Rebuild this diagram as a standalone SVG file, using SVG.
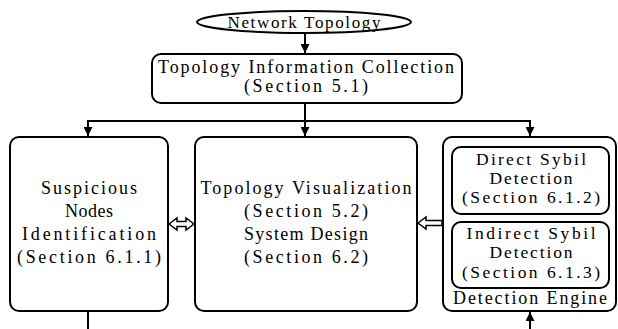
<svg xmlns="http://www.w3.org/2000/svg" width="618" height="329" viewBox="0 0 618 329">
<style>
.box{fill:#fff;stroke:#000;stroke-width:2}
.t{font-family:"Liberation Serif","DejaVu Serif",serif;font-size:18px;fill:#000;text-anchor:middle}
.s{font-size:17.5px}
.c{fill:none;stroke:#000;stroke-width:2}
.h{fill:#fff;stroke:#000;stroke-width:1.5;stroke-linejoin:miter}
</style>
<defs>
<marker id="ah" viewBox="0 0 10 10" refX="10" refY="5" markerWidth="4.5" markerHeight="4.5" orient="auto" markerUnits="strokeWidth">
<path d="M0,0 L10,5 L0,10 Z" fill="#000"/>
</marker>
</defs>
<rect width="618" height="329" fill="#fff"/>
<g id="connectors">
<line class="c" x1="305" y1="33" x2="305" y2="53" marker-end="url(#ah)"/>
<line class="c" x1="305" y1="103" x2="305" y2="136" marker-end="url(#ah)"/>
<line class="c" x1="88" y1="121" x2="530" y2="121"/>
<line class="c" x1="88" y1="120" x2="88" y2="136" marker-end="url(#ah)"/>
<line class="c" x1="530" y1="120" x2="530" y2="136" marker-end="url(#ah)"/>
<line class="c" x1="88" y1="311" x2="88" y2="329"/>
<line class="c" x1="530" y1="329" x2="530" y2="312" marker-end="url(#ah)"/>
<polygon class="h" points="169,224 177,218 177,221.5 186,221.5 186,218 194,224 186,230 186,226.5 177,226.5 177,230"/>
<polygon class="h" points="418,223 426,217 426,220.5 442,220.5 442,225.5 426,225.5 426,229"/>
</g>
<g id="network-topology">
<ellipse class="box" cx="304" cy="22" rx="107" ry="11"/>
<text class="t" x="304" y="27.5" style="font-size:17px" textLength="153" lengthAdjust="spacing">Network Topology</text>
</g>
<g id="topology-collection">
<rect class="box" x="152" y="54" width="310" height="49" rx="9"/>
<text class="t" x="306" y="73" textLength="296" lengthAdjust="spacing">Topology Information Collection</text>
<text class="t" x="306" y="92" textLength="124" lengthAdjust="spacing">(Section 5.1)</text>
</g>
<g id="suspicious-nodes">
<rect class="box" x="10" y="137" width="158" height="174" rx="9"/>
<text class="t" x="89" y="194" textLength="96" lengthAdjust="spacing">Suspicious</text>
<text class="t" x="89" y="217" textLength="48" lengthAdjust="spacing">Nodes</text>
<text class="t" x="89" y="240" textLength="134" lengthAdjust="spacing">Identification</text>
<text class="t" x="89" y="263" textLength="144" lengthAdjust="spacing">(Section 6.1.1)</text>
</g>
<g id="topology-visualization">
<rect class="box" x="195" y="137" width="222" height="174" rx="9"/>
<text class="t" x="306" y="194" textLength="211" lengthAdjust="spacing">Topology Visualization</text>
<text class="t" x="306" y="217" textLength="124" lengthAdjust="spacing">(Section 5.2)</text>
<text class="t" x="306" y="240" textLength="124" lengthAdjust="spacing">System Design</text>
<text class="t" x="306" y="263" textLength="124" lengthAdjust="spacing">(Section 6.2)</text>
</g>
<g id="detection-engine">
<rect class="box" x="443" y="137" width="173" height="174" rx="9"/>
<text class="t" x="530" y="304" textLength="154" lengthAdjust="spacing">Detection Engine</text>
</g>
<g id="direct-sybil">
<rect class="box" x="452" y="147" width="157" height="67" rx="9"/>
<text class="t s" x="531" y="165" textLength="110" lengthAdjust="spacing">Direct Sybil</text>
<text class="t s" x="531" y="184" textLength="83" lengthAdjust="spacing">Detection</text>
<text class="t s" x="531" y="203" textLength="138" lengthAdjust="spacing">(Section 6.1.2)</text>
</g>
<g id="indirect-sybil">
<rect class="box" x="452" y="222" width="157" height="66" rx="9"/>
<text class="t s" x="531" y="239" textLength="129" lengthAdjust="spacing">Indirect Sybil</text>
<text class="t s" x="531" y="258" textLength="83" lengthAdjust="spacing">Detection</text>
<text class="t s" x="531" y="278" textLength="138" lengthAdjust="spacing">(Section 6.1.3)</text>
</g>
</svg>
